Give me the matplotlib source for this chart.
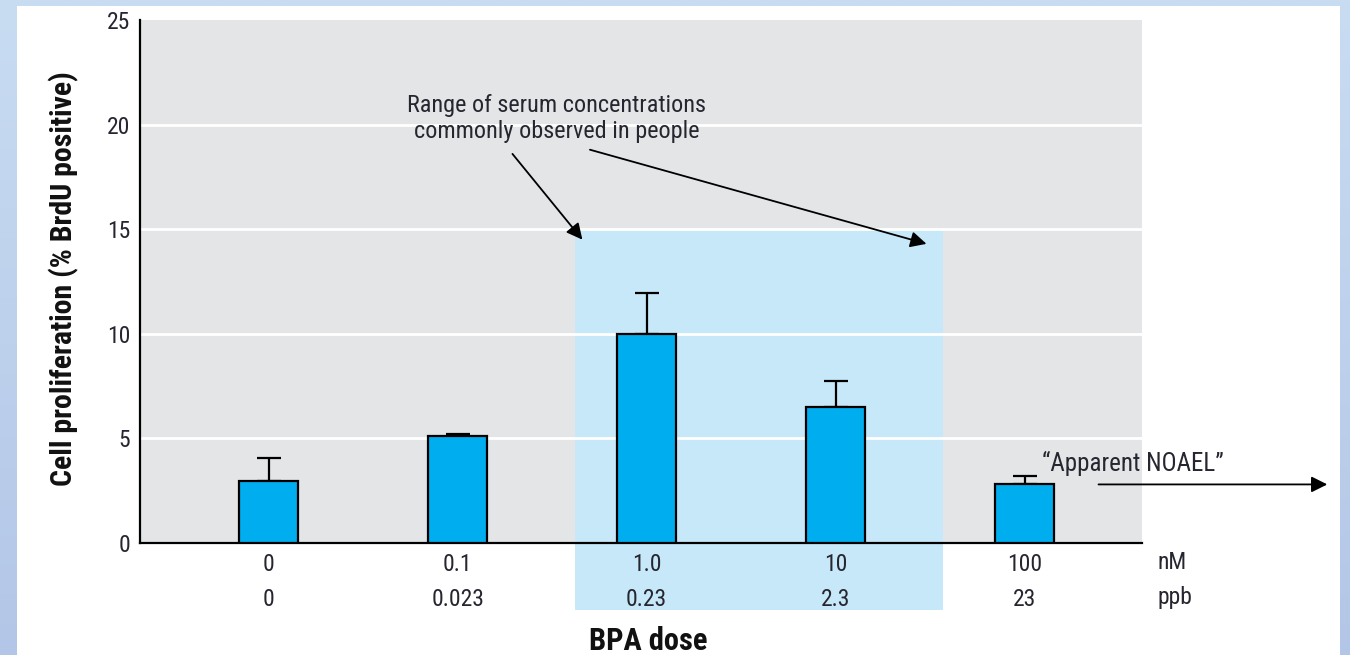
import numpy as np
import matplotlib.pyplot as plt
from matplotlib.patches import Rectangle
from matplotlib.transforms import blended_transform_factory
from matplotlib import font_manager

# dose groups and measured proliferation
dose_nM = ['0', '0.1', '1.0', '10', '100']
dose_ppb = ['0', '0.023', '0.23', '2.3', '23']
brdu_mean = [2.95, 5.1, 10.0, 6.5, 2.8]
brdu_err = [1.1, 0.12, 1.95, 1.25, 0.4]
yticks = [0, 5, 10, 15, 20, 25]

# range of serum levels seen in people (in bar-index units)
serum_lo, serum_hi, serum_top = 1.62, 3.57, 15

names = {f.name for f in font_manager.fontManager.ttflist}
wanted = ['Roboto Condensed', 'Archivo Narrow', 'IBM Plex Sans Condensed', 'Liberation Sans']
fams = [n for n in wanted if n in names] + ['DejaVu Sans']
plt.rcParams['font.family'] = fams

txt = '#262630'
bar_c = '#00aeef'
panel = '#e4e5e7'
band = '#c6e8f8'

fig = plt.figure(figsize=(13.5, 6.55), dpi=100)

# blue gradient frame with white page on top
bg = fig.add_axes([0, 0, 1, 1], zorder=-10)
grad = np.linspace(0, 1, 256).reshape(-1, 1)
c_top = np.array([0xc8, 0xdc, 0xf2]) / 255
c_bot = np.array([0xb3, 0xc6, 0xe7]) / 255
img = c_top[None, None, :] * (1 - grad[:, :, None]) + c_bot[None, None, :] * grad[:, :, None]
bg.imshow(img, aspect='auto', extent=[0, 1, 0, 1])
bg.add_patch(Rectangle((17 / 1350, 0), (1340 - 17) / 1350, 1 - 6 / 655,
                       facecolor='white', edgecolor='none'))
bg.set_xlim(0, 1)
bg.set_ylim(0, 1)
bg.axis('off')

ax = fig.add_axes([140 / 1350, 1 - 543 / 655, (1142 - 140) / 1350, (543 - 20) / 655])
ax.set_facecolor(panel)
x = np.arange(len(dose_nM))

ax.add_patch(Rectangle((serum_lo, -3.2), serum_hi - serum_lo, serum_top + 3.2,
                       facecolor=band, edgecolor='none', zorder=0.8, clip_on=False))
for yv in yticks[1:-1]:
    ax.axhline(yv, color='white', lw=2, zorder=1)

ax.bar(x, brdu_mean, width=0.31, color=bar_c, edgecolor='black', linewidth=1.6, zorder=3)
ax.errorbar(x, brdu_mean, yerr=[np.zeros(len(x)), brdu_err], fmt='none',
            ecolor='black', elinewidth=1.6, capsize=8.5, capthick=1.6, zorder=2)

ax.set_xlim(-0.68, 4.62)
ax.set_ylim(0, 25)
for s in ['top', 'right']:
    ax.spines[s].set_visible(False)
ax.spines['left'].set_linewidth(1.6)
ax.spines['bottom'].set_linewidth(1.6)
ax.set_yticks(yticks)
ax.set_yticklabels([str(v) for v in yticks], fontsize=17, color=txt)
ax.set_xticks(x)
ax.set_xticklabels([f'{a}\n{b}' for a, b in zip(dose_nM, dose_ppb)],
                   fontsize=17, color=txt, linespacing=1.7)
ax.tick_params(length=0, pad=7)

tr = blended_transform_factory(ax.transAxes, ax.transAxes)
ax.text(1.015, -0.038, 'nM', transform=tr, ha='left', va='center', fontsize=17, color=txt)
ax.text(1.015, -0.105, 'ppb', transform=tr, ha='left', va='center', fontsize=17, color=txt)

ax.set_xlabel('BPA dose', fontsize=22, fontweight='bold', color='#111111')
ax.xaxis.set_label_coords(0.507, -0.158)
ax.set_ylabel('Cell proliferation (% BrdU positive)', fontsize=21.5, fontweight='bold',
              color='#111111')
ax.yaxis.set_label_coords(-0.061, 0.505)

ax.text(1.524, 20.3, 'Range of serum concentrations\ncommonly observed in people',
        ha='center', va='center', fontsize=17.5, color=txt, linespacing=1.2)
arrow = dict(arrowstyle='-|>', color='black', lw=1.3, mutation_scale=24, shrinkA=0, shrinkB=0)
ax.annotate('', xy=(1.66, 14.5), xytext=(1.29, 18.6), arrowprops=arrow)
ax.annotate('', xy=(3.48, 14.3), xytext=(1.70, 18.8), arrowprops=arrow)

ax.text(4.57, 3.82, '\u201cApparent NOAEL\u201d', ha='center', va='center', fontsize=18, color=txt)
ax.annotate('', xy=(5.60, 2.8), xytext=(4.39, 2.8), arrowprops=arrow,
            annotation_clip=False)

fig.savefig('out.png', dpi=100)
